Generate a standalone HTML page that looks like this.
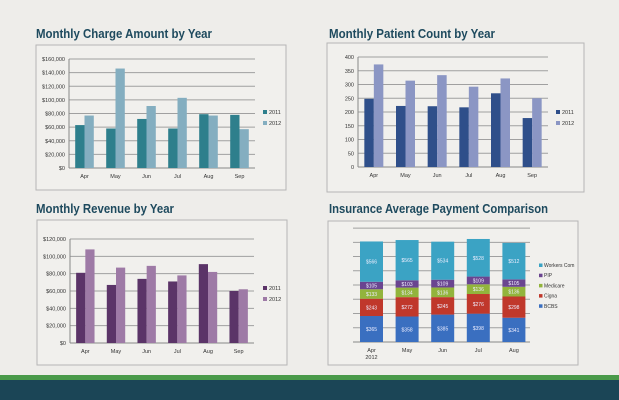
<!DOCTYPE html>
<html><head><meta charset="utf-8"><style>
body{margin:0;width:619px;height:400px;overflow:hidden;background:#eeedea;font-family:"Liberation Sans",sans-serif}
svg{position:absolute;left:0;top:0}
</style></head><body>
<svg id="s" width="619" height="400" xmlns="http://www.w3.org/2000/svg"></svg>
<script>
var o='';
function t(x,y,s,sz,c,a,w,tl){o+='<text x="'+x+'" y="'+y+'" font-size="'+sz+'" fill="'+(c||'#333')+'" text-anchor="'+(a||'start')+'"'+(w?' font-weight="bold"':'')+(tl?' textLength="'+tl+'" lengthAdjust="spacingAndGlyphs"':'')+'>'+s+'</text>';}
function r(x,y,w,h,c,extra){o+='<rect x="'+x+'" y="'+y+'" width="'+w+'" height="'+h+'" fill="'+c+'" '+(extra||'')+'/>';}
function l(x1,y1,x2,y2,c,w){o+='<line x1="'+x1+'" y1="'+y1+'" x2="'+x2+'" y2="'+y2+'" stroke="'+c+'" stroke-width="'+(w||1)+'"/>';}
var cats=['Apr','May','Jun','Jul','Aug','Sep'];
function bar(box,pl,pr,pt,pb,max,step,fmt,d1,d2,c1,c2,lx,ly){
 r(box[0],box[1],box[2]-box[0],box[3]-box[1],'#f1f0ed','stroke="#b5b5b5" stroke-width="1"');
 var n=max/step;
 for(var i=0;i<=n;i++){var y=pb-(pb-pt)*i/n;l(pl,y,pr,y,i==0?'#888':'#a0a0a0',1);t(pl-4,y+2,fmt(i*step),5.5,'#333','end');}
 l(pl,pt,pl,pb,'#888');
 var cw=(pr-pl)/6;
 for(var k=0;k<6;k++){var x0=pl+cw*k+cw*0.2,bw=cw*0.3;
  var h1=(pb-pt)*d1[k]/max,h2=(pb-pt)*d2[k]/max;
  r(x0,pb-h1,bw,h1,c1);r(x0+bw,pb-h2,bw,h2,c2);
  t(pl+cw*(k+0.5),pb+10,cats[k],5.5,'#333','middle');}
 r(lx,ly-4,4,4,c1);t(lx+6,ly,'2011',5.5);r(lx,ly+7,4,4,c2);t(lx+6,ly+11,'2012',5.5);
}
function money(v){return '$'+(v==0?'0':(v/1000)+',000');}
bar([36,45,286,190],69,255,59,168,160000,20000,money,[63,58,72,58,79,78].map(v=>v*1000),[77,146,91,103,77,57].map(v=>v*1000),'#2e7f8c','#84aec0',263,114);
bar([327,43,584,192],358,548,57,167,400,50,function(v){return v;},[248,222,221,217,268,178],[373,314,334,292,322,250],'#2f4f8a','#8b96c4',556,114);
bar([37,220,287,365],70,254,239,343,120000,20000,money,[81,67,74,71,91,60].map(v=>v*1000),[108,87,89,78,82,62].map(v=>v*1000),'#5b3468','#9e7aa6',263,290);
r(328,221,250,144,'#f1f0ed','stroke="#b5b5b5" stroke-width="1"');
var pb=342,sc=0.0712;
for(var i=0;i<=8;i++){var y=pb-14.24*i;l(353,y,530,y,i==0?'#888':'#a0a0a0');}
var data=[[365,243,133,105,566],[358,272,134,103,565],[385,245,136,109,534],[398,276,136,109,528],[341,298,136,105,512]];
var cols=['#3a6fc0','#c0382b','#92b43c','#6a4590','#3ba3c4'];
var sc5=['Apr','May','Jun','Jul','Aug'];
for(var k=0;k<5;k++){var x=360+35.6*k,y=pb;
 for(var j=0;j<5;j++){var h=data[k][j]*sc;y-=h;r(x,y,23,h,cols[j]);t(x+11.5,y+h/2+2,'$'+data[k][j],5,'#eef','middle');}
 t(x+11.5,352,sc5[k],5.5,'#333','middle');}
t(371.5,359,'2012',5.5,'#333','middle');
var ln=['Workers Com','PIP','Medicare','Cigna','BCBS'],lc=[4,3,2,1,0];
for(var j=0;j<5;j++){var y=267+10.2*j;r(539,y-3.5,3.5,3.5,cols[lc[j]]);t(544,y,ln[j],5);}
t(36,38,'Monthly Charge Amount by Year',13,'#1e4a5e','start',1,176);
t(329,38,'Monthly Patient Count by Year',13,'#1e4a5e','start',1,166);
t(36,213,'Monthly Revenue by Year',13,'#1e4a5e','start',1,138);
t(329,213,'Insurance Average Payment Comparison',13,'#1e4a5e','start',1,219);
r(0,375,619,5,'#4a9a4a');r(0,380,619,20,'#1b4556');
document.getElementById('s').innerHTML=o;
</script>
</body></html>
